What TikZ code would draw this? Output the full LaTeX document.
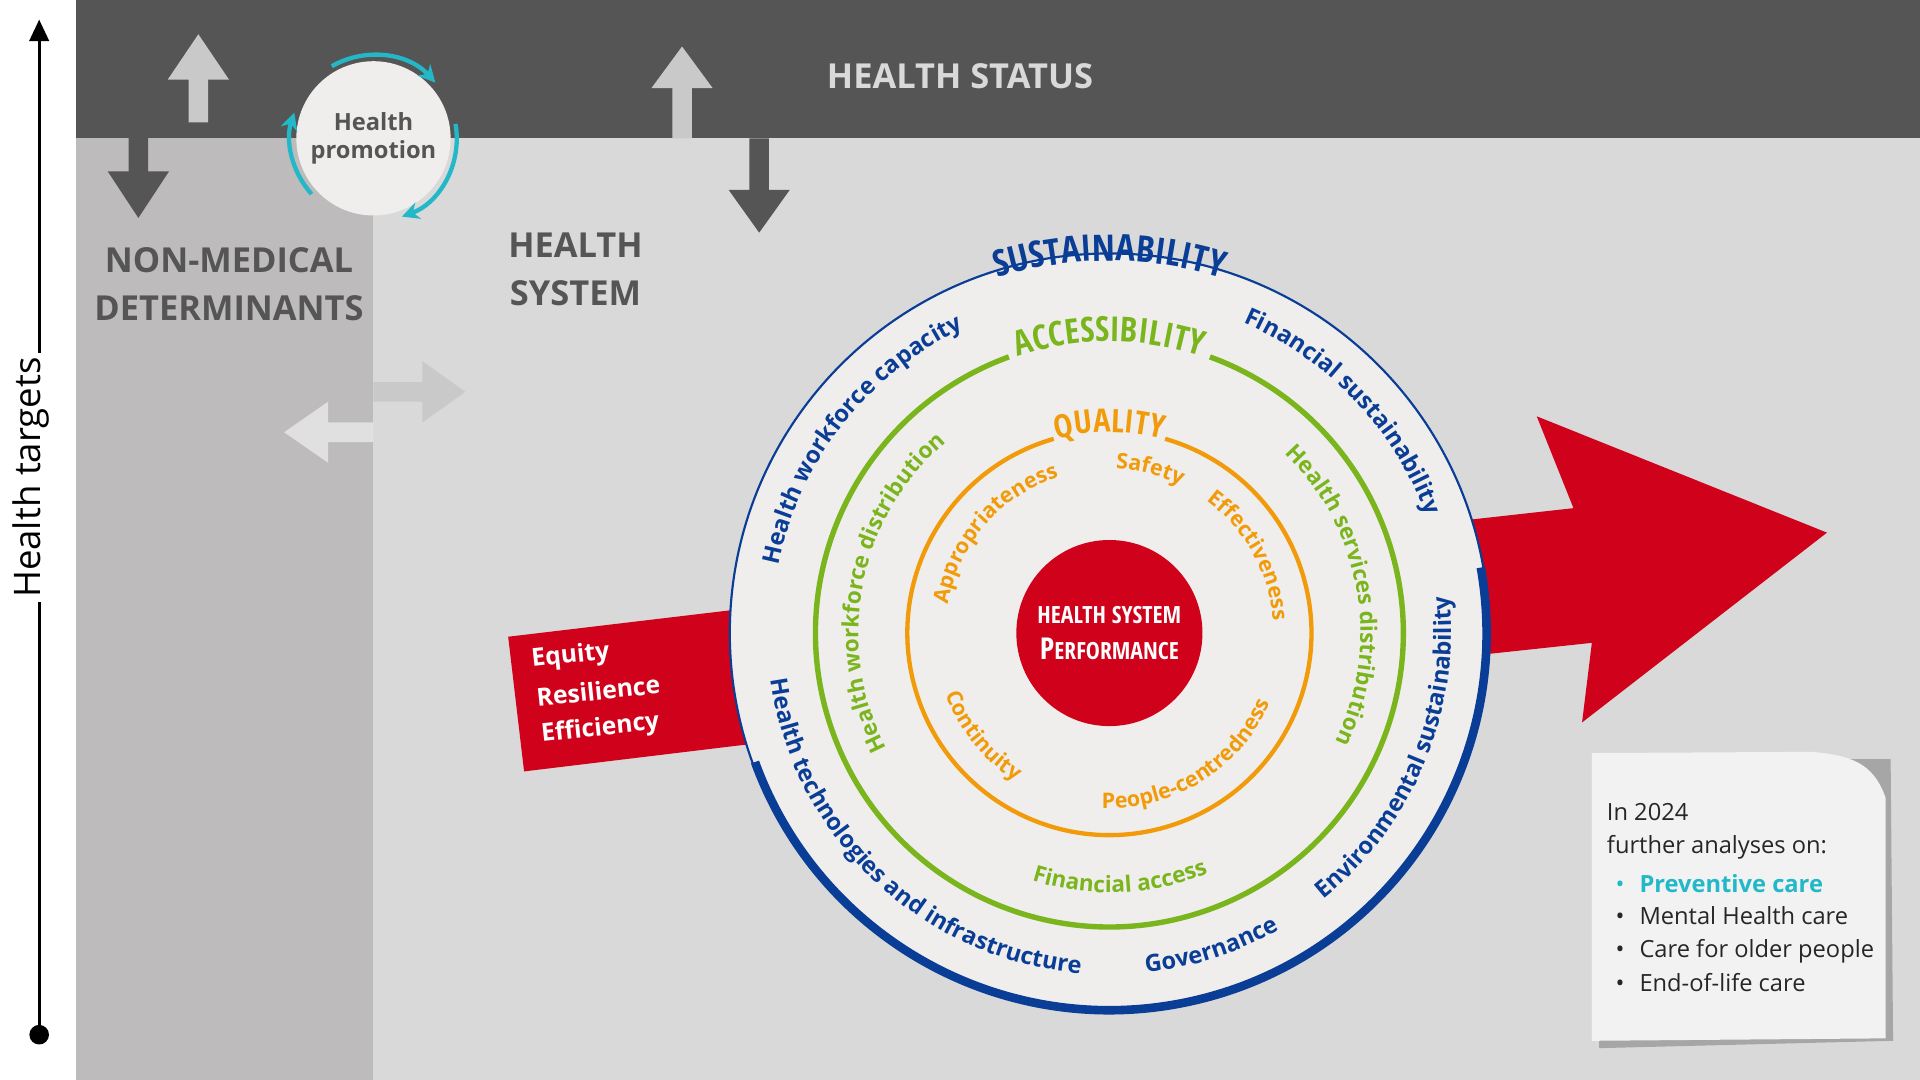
\documentclass[tikz,border=0pt]{standalone}
\usepackage{fontspec}
\setmainfont{Open Sans}
\newfontfamily\titlefont{Open Sans Condensed}[BoldFont={* Bold}]
\usetikzlibrary{arrows.meta, positioning, decorations.text}
\definecolor{hdark}{HTML}{555555}
\definecolor{hbg}{HTML}{D9D9D9}
\definecolor{hcol}{HTML}{BDBBBC}
\definecolor{hlight}{HTML}{C9C9C9}
\definecolor{hblue}{HTML}{0A3D96}
\definecolor{hgreen}{HTML}{7AB51D}
\definecolor{horange}{HTML}{F29B0A}
\definecolor{hred}{HTML}{D0021B}
\definecolor{hcyan}{HTML}{22B8C8}
\definecolor{hdisc}{HTML}{EFEEED}
\newcommand\fs[1]{\fontsize{#1}{#1}\selectfont}
\newcommand\arctext[5]{%
	\path[decorate, decoration={text along path, text align=center, text={|#4|#5}}]
		(C) ++(#2:#1) arc[start angle=#2, end angle=#3, radius=#1];}
\tikzset{%
	heading/.style={font=\fs{16}\bfseries, text=hdark, align=center},
	ringtext/.style={text=white, font=\fs{11.5}\bfseries, rotate=6, anchor=west},
}
\begin{document}
\begin{tikzpicture}[x=0.02cm, y=0.02cm]
	\useasboundingbox (0,0) rectangle (1568,882);
	% backgrounds
	\fill[white] (0,0) rectangle (1568,882);
	\fill[hbg] (62,0) rectangle (1568,882);
	\fill[hcol] (62,0) rectangle (305,780);
	\fill[hdark] (62,769) rectangle (1568,882);
	\fill[hdark] (62,780) rectangle (305,769);
	
	% block arrows (pixel coordinates, y down)
	\begin{scope}[shift={(0,882)}, yscale=-1]
		\fill[hlight] (154,100) -- (154,65) -- (137,65) -- (162,28) -- (187,65) -- (170,65) -- (170,100) -- cycle;
		\fill[hdark] (105,102) -- (105,140) -- (88,140) -- (113,178) -- (138,140) -- (121,140) -- (121,102) -- cycle;
		\fill[hlight] (549,113) -- (549,72) -- (532,72) -- (557,38) -- (582,72) -- (565,72) -- (565,113) -- cycle;
		\fill[hdark] (612,113) -- (612,155) -- (595,155) -- (620,190) -- (645,155) -- (628,155) -- (628,113) -- cycle;
		\fill[hlight] (305,312) -- (345,312) -- (345,295) -- (380,320) -- (345,345) -- (345,328) -- (305,328) -- cycle;
		\fill[black!12] (305,345) -- (268,345) -- (268,328) -- (232,353) -- (268,378) -- (268,361) -- (305,361) -- cycle;
		% red arrow
		\fill[hred] (415,520) -- (600,498) -- (610,608) -- (428,630) -- cycle;
		\fill[hred] (1150,430) -- (1285,415) -- (1255,340) -- (1492,435) -- (1292,590) -- (1300,525) -- (1160,540) -- cycle;
	\end{scope}
	
	% health targets axis
	\coordinate (tbot) at (32,37);
	\coordinate (ttop) at (32,866);
	\fill (tbot) circle (8);
	\draw[line width=1.5pt, -{Triangle[length=10pt, width=9pt]}] (tbot) -- (ttop);
	\node[fill=white, rotate=90, font=\fs{17}, inner sep=2pt] (targets) at (25,492) {Health targets};
	
	% headings
	\node[font=\fs{16}\bfseries, text=black!15] (status) at (784,820) {HEALTH STATUS};
	\node[heading] (nonmed) at (187,650) {NON-MEDICAL\\[6pt]DETERMINANTS};
	\node[heading] (hsys) at (470,662) {HEALTH\\[6pt]SYSTEM};
	
	% health promotion
	\node[circle, fill=hdisc, minimum size=124*0.02cm, align=center, font=\fs{11}\bfseries, text=hdark] (promo) at (305,769) {Health\\[2pt]promotion};
	\begin{scope}[hcyan, line width=2pt, -{Stealth[length=8pt, width=8pt]}]
		\draw (promo.center) ++(120:68) arc[start angle=120, end angle=42, radius=68];
		\draw (promo.center) ++(10:68) arc[start angle=10, end angle=-70, radius=68];
		\draw (promo.center) ++(222:68) arc[start angle=222, end angle=162, radius=68];
	\end{scope}
	
	% equity texts
	\node[ringtext] (equity) at (428,342) {Equity};
	\node[ringtext] (resil) at (432,312) {Resilience};
	\node[ringtext] (effic) at (436,281) {Efficiency};
	
	% main disc
	\coordinate (C) at (906,365);
	\fill[hdisc] (C) circle (310);
	\draw[hblue, line width=1pt] (C) circle (310);
	\draw[hblue, line width=4pt] (C) ++(10:308) arc[start angle=10, end angle=-160, radius=308];
	\draw[hgreen, line width=2.5pt] (C) ++(110:240) arc[start angle=110, end angle=430, radius=240];
	\draw[horange, line width=2pt] (C) ++(106:165) arc[start angle=106, end angle=434, radius=165];
	\node[circle, fill=hred, minimum size=152*0.02cm, inner sep=0pt, align=center, text=white, font=\titlefont\bfseries] (perf) at (C)
		{\fs{11}HEALTH SYSTEM\\[5pt]\fs{14}P\fs{11}ERFORMANCE};
	
	% blue ring texts
	\arctext{304}{120}{60}{\titlefont\fs{17}\bfseries\color{hblue}}{SUSTAINABILITY}
	\arctext{276}{170}{114}{\fs{11}\bfseries\color{hblue}}{Health workforce capacity}
	\arctext{276}{69}{18}{\fs{11}\bfseries\color{hblue}}{Financial sustainability}
	\arctext{279}{-54}{9}{\fs{11}\bfseries\color{hblue}}{Environmental sustainability}
	\arctext{279}{-92}{-52}{\fs{11}\bfseries\color{hblue}}{Governance}
	\arctext{279}{185}{268}{\fs{11}\bfseries\color{hblue}}{Health technologies and infrastructure}
	% green ring texts
	\arctext{238}{125}{55}{\titlefont\fs{16}\bfseries\color{hgreen}}{ACCESSIBILITY}
	\arctext{205}{212}{126}{\fs{10.5}\bfseries\color{hgreen}}{Health workforce distribution}
	\arctext{205}{50}{-30}{\fs{10.5}\bfseries\color{hgreen}}{Health services distribution}
	\arctext{212}{245}{300}{\fs{10.5}\bfseries\color{hgreen}}{Financial access}
	% orange ring texts
	\arctext{164}{115}{65}{\titlefont\fs{15}\bfseries\color{horange}}{QUALITY}
	\arctext{134}{175}{103}{\fs{10}\bfseries\color{horange}}{Appropriateness}
	\arctext{134}{92}{60}{\fs{10}\bfseries\color{horange}}{Safety}
	\arctext{134}{58}{0}{\fs{10}\bfseries\color{horange}}{Effectiveness}
	\arctext{143}{193}{245}{\fs{10}\bfseries\color{horange}}{Continuity}
	\arctext{143}{258}{346}{\fs{10}\bfseries\color{horange}}{People-centredness}
	
	% note paper
	\fill[black!35] (1306,26) -- (1546,32) -- (1544,262) -- (1306,262) -- cycle;
	\fill[black!5] (1300,32) -- (1540,34) -- (1540,230) .. controls (1530,260) and (1510,265) .. (1480,268) -- (1300,267) -- cycle;
	\node[anchor=north west, align=left, font=\fs{11}, text=black!85, inner sep=0pt] (note) at (1312,226)
		{In 2024\\[4pt]further analyses on:};
	\node[below right=7pt and 0pt of note.south west, anchor=north west, inner sep=0pt, align=left, font=\fs{11}, text=black!85] (list)
		{\hspace{4pt}\textcolor{hcyan}{\textbullet}\hspace{7pt}\textcolor{hcyan}{\bfseries Preventive care}\\[4pt]
		 \hspace{4pt}\textbullet\hspace{7pt}Mental Health care\\[4pt]
		 \hspace{4pt}\textbullet\hspace{7pt}Care for older people\\[4pt]
		 \hspace{4pt}\textbullet\hspace{7pt}End-of-life care};
\end{tikzpicture}
\end{document}
